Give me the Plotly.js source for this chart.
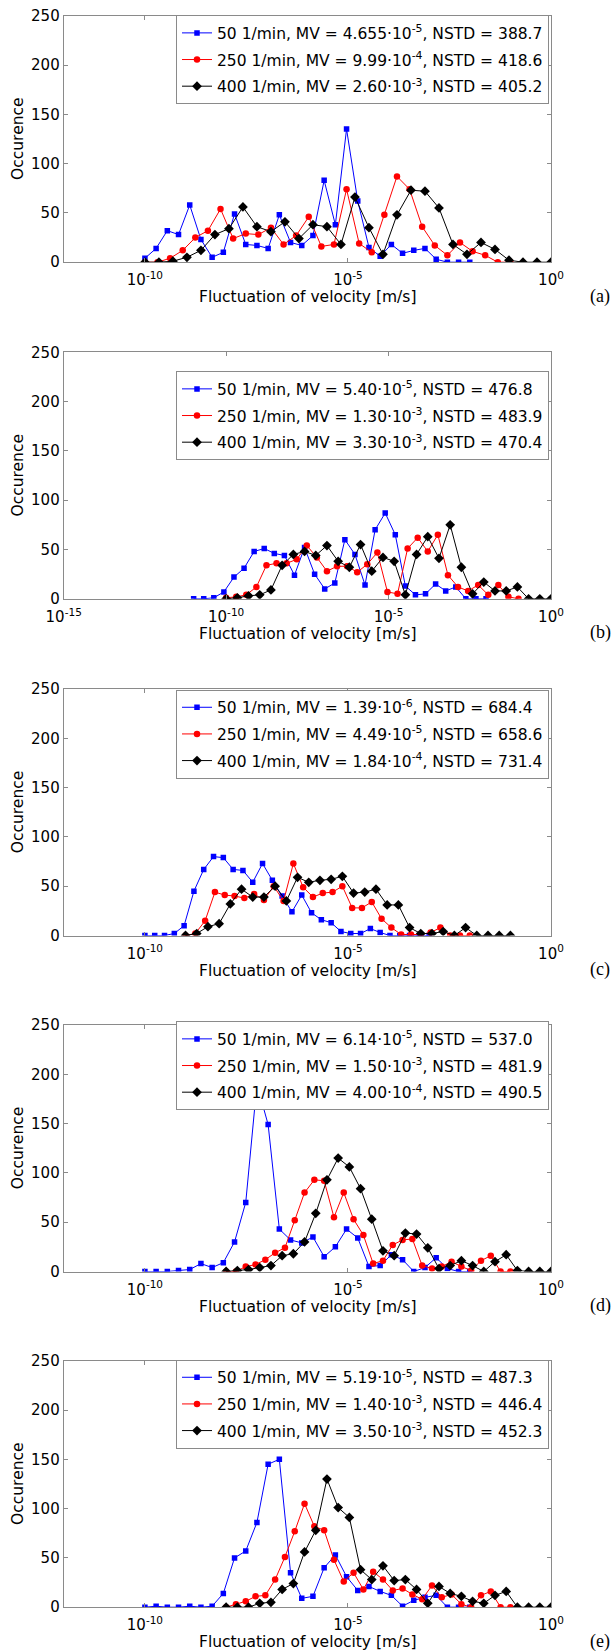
<!DOCTYPE html>
<html><head><meta charset="utf-8">
<script src="https://cdn.plot.ly/plotly-3.0.1.min.js"></script>
<style>html,body{margin:0;padding:0;background:#fff}</style>
</head><body><div id="chart" style="width:612px;height:1652px"></div>
<script>
// ---------------- data ----------------
const panelLabels = ["(a)", "(b)", "(c)", "(d)", "(e)"];
const speeds = ["50 1/min", "250 1/min", "400 1/min"];
const mvText = [
  ["4.655·10<sup>-5</sup>", "9.99·10<sup>-4</sup>", "2.60·10<sup>-3</sup>"],
  ["5.40·10<sup>-5</sup>", "1.30·10<sup>-3</sup>", "3.30·10<sup>-3</sup>"],
  ["1.39·10<sup>-6</sup>", "4.49·10<sup>-5</sup>", "1.84·10<sup>-4</sup>"],
  ["6.14·10<sup>-5</sup>", "1.50·10<sup>-3</sup>", "4.00·10<sup>-4</sup>"],
  ["5.19·10<sup>-5</sup>", "1.40·10<sup>-3</sup>", "3.50·10<sup>-3</sup>"]
];
const nstdText = [
  ["388.7", "418.6", "405.2"],
  ["476.8", "483.9", "470.4"],
  ["684.4", "658.6", "731.4"],
  ["537.0", "481.9", "490.5"],
  ["487.3", "446.4", "452.3"]
];
// histogram bin ranges (log10 of first and last bin centre), 30 bins each
const nBins = 30;
const binLo = [[-10, -10, -10], [-11, -10, -10], [-10, -9, -9], [-10, -8, -8], [-10, -8, -8]];
const binHi = [[-2, -1, 0], [-2, -1, 0], [-3, -2, -1], [-2, -1, 0], [-2, -1, 0]];
const xRangeLog = [[-12, 0], [-15, 0], [-12, 0], [-12, 0], [-12, 0]];
const xTickExp = [[-10, -5, 0], [-15, -10, -5, 0], [-10, -5, 0], [-10, -5, 0], [-10, -5, 0]];
const yTicks = [0, 50, 100, 150, 200, 250];

// occurrences (a)
const a50  = [4,14,32,28,58,23,5,10,49,18,17,14,48,20,17,27,83,38,135,62,15,6,18,9,12,14,3,0,0,0];
const a250 = [0,0,4,12,25,32,54,24,29,28,35,18,27,46,16,18,74,19,10,48,87,74,36,17,7,20,11,7,0,0];
const a400 = [0,0,1,5,12,28,34,56,36,31,41,24,38,36,18,66,35,8,48,73,72,55,18,8,20,13,2,0,0,0];
// (b)
const b50  = [0,0,1,7,22,31,48,51,46,44,24,52,25,10,16,60,45,14,70,87,65,13,4,5,15,8,12,0,0,0];
const b250 = [1,2,4,12,34,36,36,40,54,42,28,33,33,27,35,47,7,5,51,62,48,65,24,12,8,14,4,14,2,0];
const b400 = [0,1,3,4,9,34,45,48,44,54,38,32,55,28,42,38,4,45,63,41,75,32,5,17,8,8,12,0,0,0];
// (c)
const c50  = [0,0,0,2,10,45,67,80,79,67,66,54,73,56,40,24,41,23,16,13,4,2,2,7,3,0,0,0,0,0];
const c250 = [0,2,15,44,41,40,38,42,36,50,35,73,49,39,43,44,50,28,28,34,17,8,1,1,1,3,8,0,0,0];
const c400 = [0,2,9,12,32,47,39,39,50,35,59,54,56,57,60,43,44,47,31,31,8,2,2,4,0,8,0,0,0,0];
// (d)
const d50  = [0,0,0,1,2,8,4,9,30,70,190,149,43,32,29,35,15,25,43,34,5,6,17,12,0,4,14,3,0,0];
const d250 = [0,0,5,7,12,19,24,52,80,93,92,55,80,53,37,8,11,27,32,33,6,3,5,10,5,1,11,16,0,0];
const d400 = [0,1,2,4,6,16,18,30,59,93,115,106,84,53,21,16,39,38,24,3,6,11,6,0,10,17,1,0,0,0];
// (e)
const e50  = [0,1,0,0,1,0,1,14,50,57,86,145,150,35,9,11,40,53,31,17,21,16,12,1,7,10,12,0,0,0];
const e250 = [0,3,6,11,12,28,51,77,105,82,78,48,26,35,18,36,28,17,19,13,8,22,10,13,3,0,12,16,0,0];
const e400 = [0,0,0,4,5,18,24,56,78,130,101,91,38,28,42,27,28,18,4,21,14,11,6,4,12,16,0,0,0,0];

const panelData = [[a50, a250, a400], [b50, b250, b400], [c50, c250, c400], [d50, d250, d400], [e50, e250, e400]];

// ---------------- styling / layout ----------------
const W = 612, H = 1652;
const plotLeft = 63.7, plotRight = 551;
const plotTop = [15.7, 352.3, 689, 1025, 1360.7];
const plotH = 246.5;
const legendTop = [15.3, 371.3, 689.7, 1021.3, 1359.7];
const colors = ["#0000ff", "#ff0000", "#000000"];
const symbols = ["square", "circle", "diamond"];
const msizes = [5.5, 6.5, 7.5];
const FONT = "DejaVu Sans";
const frameColor = "#8a8a8a";

function binCentres(lo, hi) {
  const out = [];
  for (let i = 0; i < nBins; i++) out.push(Math.pow(10, lo + (hi - lo) * i / (nBins - 1)));
  return out;
}

const traces = [];
const layout = {
  width: W, height: H,
  margin: {l: 0, r: 0, t: 0, b: 0},
  paper_bgcolor: "#ffffff", plot_bgcolor: "#ffffff",
  font: {family: FONT, size: 15, color: "#000"},
  showlegend: true,
  hovermode: false,
  annotations: []
};

for (let p = 0; p < 5; p++) {
  const sfx = p === 0 ? "" : String(p + 1);
  const legKey = "legend" + sfx;
  for (let k = 0; k < 3; k++) {
    traces.push({
      type: "scatter", mode: "lines+markers",
      x: binCentres(binLo[p][k], binHi[p][k]),
      y: panelData[p][k],
      xaxis: "x" + sfx, yaxis: "y" + sfx,
      name: speeds[k] + ", MV = " + mvText[p][k] + ", NSTD = " + nstdText[p][k],
      legend: legKey, legendgroup: "g" + p + k,
      line: {color: colors[k], width: 1},
      marker: {symbol: symbols[k], size: msizes[k], color: colors[k], line: {width: 0}}
    });
  }
  const y0 = 1 - (plotTop[p] + plotH) / H, y1 = 1 - plotTop[p] / H;
  layout["xaxis" + sfx] = {
    type: "log", range: xRangeLog[p], domain: [plotLeft / W, plotRight / W],
    anchor: "y" + sfx,
    tickmode: "array",
    tickvals: xTickExp[p].map(e => Math.pow(10, e)),
    ticktext: xTickExp[p].map(e => "10<sup>" + e + "</sup>"),
    ticks: "inside", ticklen: 4, tickcolor: frameColor,
    ticklabelstandoff: 4,
    showline: true, linecolor: frameColor, linewidth: 1, mirror: "ticks",
    showgrid: false, zeroline: false,
    tickfont: {family: FONT, size: 15, color: "#000"}
  };
  layout["yaxis" + sfx] = {
    range: [0, 250], domain: [y0, y1], anchor: "x" + sfx,
    tickmode: "array", tickvals: yTicks,
    ticks: "inside", ticklen: 4, tickcolor: frameColor,
    showline: true, linecolor: frameColor, linewidth: 1, mirror: "ticks",
    showgrid: false, zeroline: false,
    tickfont: {family: FONT, size: 15, color: "#000"}
  };
  layout[legKey] = {
    x: 549 / W, xanchor: "right", xref: "paper",
    y: 1 - legendTop[p] / H, yanchor: "top", yref: "paper",
    bgcolor: "#ffffff", bordercolor: frameColor, borderwidth: 1,
    font: {family: FONT, size: 15.5, color: "#000"},
    itemwidth: 30, tracegroupgap: 3.5, traceorder: "grouped",
    itemclick: false, itemdoubleclick: false
  };
  const bottom = plotTop[p] + plotH;
  layout.annotations.push({
    xref: "paper", yref: "paper", x: 18 / W, y: 1 - (plotTop[p] + plotH / 2) / H,
    text: "Occurence", textangle: -90, showarrow: false,
    xanchor: "center", yanchor: "middle",
    font: {family: FONT, size: 15.5, color: "#000"}
  });
  layout.annotations.push({
    xref: "paper", yref: "paper", x: 307 / W, y: 1 - (bottom + 35) / H,
    text: "Fluctuation of velocity [m/s]", showarrow: false,
    xanchor: "center", yanchor: "middle",
    font: {family: FONT, size: 15.5, color: "#000"}
  });
  layout.annotations.push({
    xref: "paper", yref: "paper", x: 600 / W, y: 1 - (bottom + 34) / H,
    text: panelLabels[p], showarrow: false,
    xanchor: "center", yanchor: "middle",
    font: {family: "Liberation Serif", size: 18, color: "#000"}
  });
}

Plotly.newPlot("chart", traces, layout, {staticPlot: true, displayModeBar: false});
</script>
</body></html>
